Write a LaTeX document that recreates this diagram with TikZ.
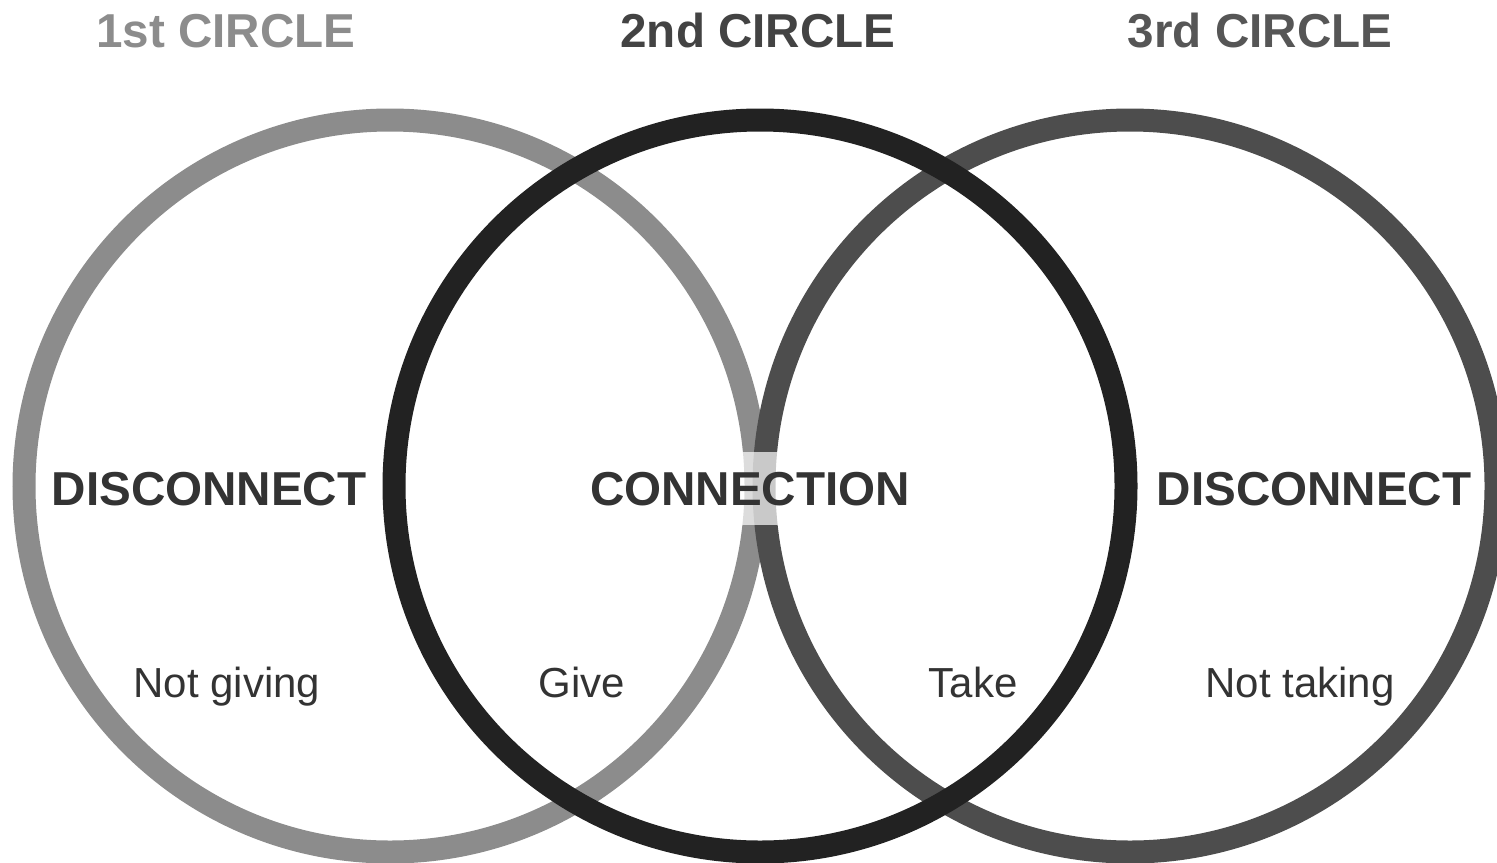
\documentclass[tikz,border=0pt]{standalone}
\usepackage{fontspec}
\setmainfont{Liberation Sans}
\usetikzlibrary{positioning}
\definecolor{ringone}{HTML}{8C8C8C}
\definecolor{ringtwo}{HTML}{222222}
\definecolor{ringthree}{HTML}{4D4D4D}
\definecolor{txt}{HTML}{333333}

\begin{document}
\begin{tikzpicture}[x=0.5pt,y=-0.5pt,on grid,node distance=185pt,
    ring/.style={circle,draw,line width=11.5pt,minimum size=366pt,inner sep=0pt},
    head/.style={font=\fontsize{23.8}{28}\selectfont\bfseries,anchor=base,inner sep=0pt},
    big/.style={font=\fontsize{23.8}{28}\selectfont\bfseries,text=txt,anchor=base,inner sep=0pt},
    small/.style={font=\fontsize{21}{25}\selectfont,text=txt,anchor=base,inner sep=0pt}]
   \useasboundingbox (0,0) rectangle (1497,862);
   \node[ring,draw=ringone] (c1) at (390,486) {};
   \node[ring,draw=ringthree] (c3) [right=370pt of c1] {};
   \node[ring,draw=ringtwo] (c2) [right=of c1] {};

   \node[head,text=ringone] (t1) at (226,47) {1st CIRCLE};
   \node[head,text=ringtwo!85!white] (t2) at (758,47) {2nd CIRCLE};
   \node[head,text=ringthree!95!white] (t3) at (1260,47) {3rd CIRCLE};

   \node[big] (d1) at (209,505) {DISCONNECT};
   \node[big,fill=white,fill opacity=0.7,text opacity=1,inner ysep=10pt] (cn) at (750,505) {CONNECTION};
   \node[big] (d3) at (1314,505) {DISCONNECT};

   \node[small] (ng) at (227,697) {Not giving};
   \node[small] (gv) at (582,697) {Give};
   \node[small] (tk) at (973,697) {Take};
   \node[small] (nt) at (1300,697) {Not taking};
\end{tikzpicture}
\end{document}
